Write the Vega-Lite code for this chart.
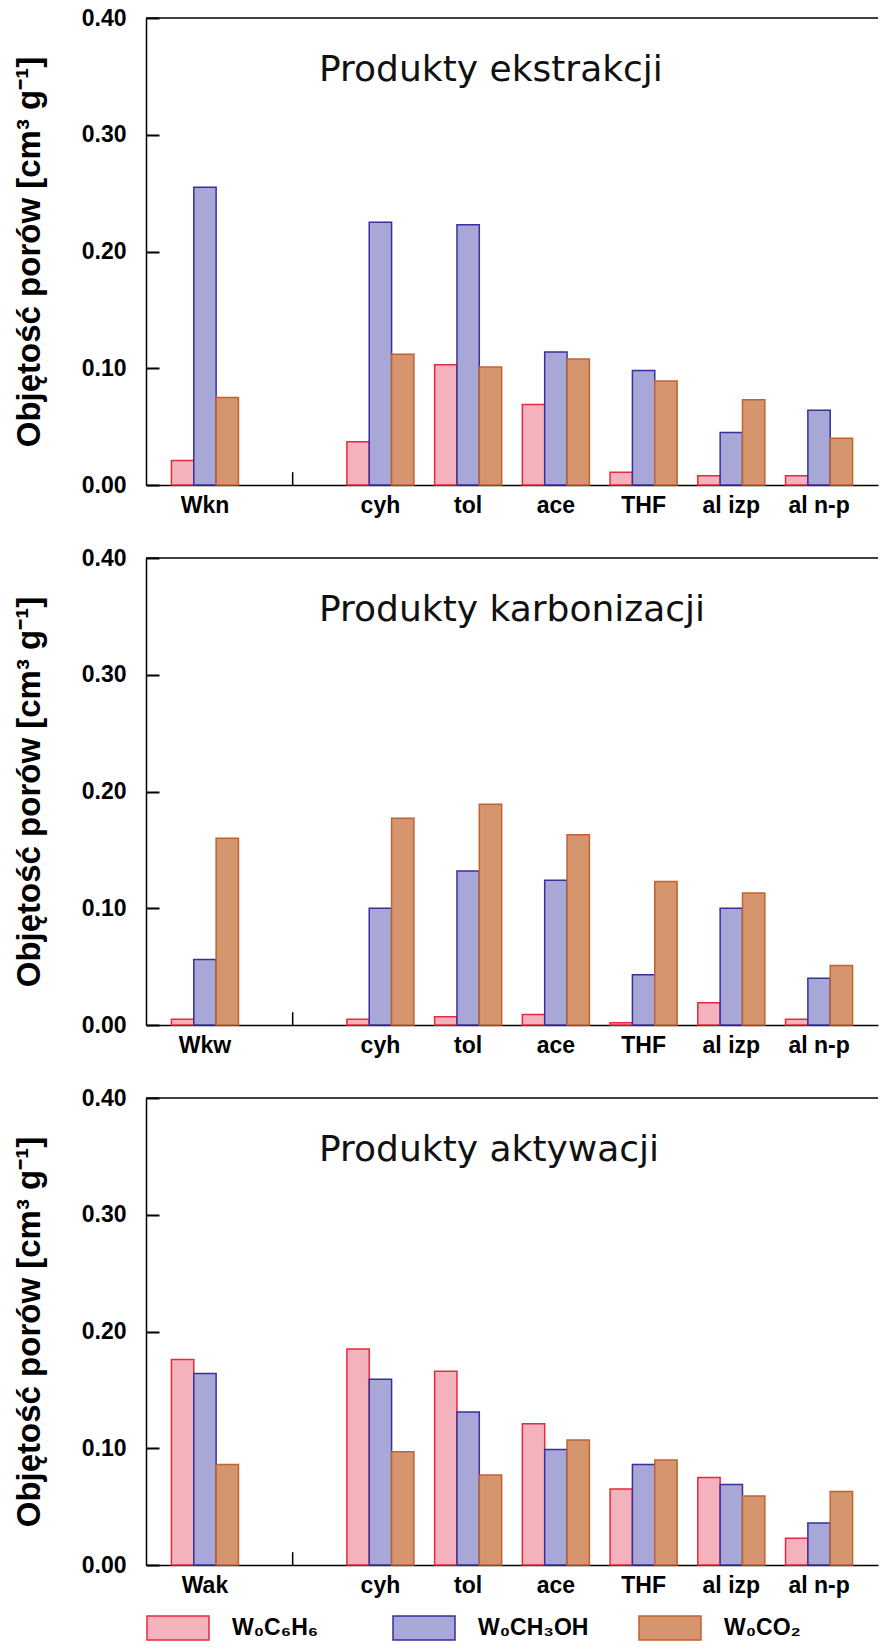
{
  "$schema": "https://vega.github.io/schema/vega-lite/v6.json",
  "background": "white",
  "padding": {"left": 13, "top": 7, "right": 0, "bottom": 0},
  "bounds": "flush",
  "spacing": 73,
  "config": {
    "view": {"stroke": null},
    "font": "Liberation Sans",
    "axisX": {
      "domain": true, "domainColor": "#000", "domainWidth": 1.5, "ticks": false,
      "labelAngle": 0, "labelFont": "Liberation Sans", "labelFontWeight": "bold", "labelFontSize": 23,
      "labelColor": "#000", "labelPadding": 9, "title": null, "grid": false
    },
    "axisY": {
      "domain": true, "domainColor": "#000", "domainWidth": 1.5,
      "ticks": true, "tickSize": -13, "tickColor": "#000", "tickWidth": 2,
      "labelFont": "Liberation Sans", "labelFontWeight": "bold", "labelFontSize": 23, "labelColor": "#000",
      "labelPadding": 33, "titleFont": "Liberation Sans", "titleFontWeight": "bold", "titleFontSize": 33,
      "titleColor": "#000", "titlePadding": 35, "grid": false
    },
    "title": {"font": "DejaVu Sans", "fontSize": 36, "fontWeight": "normal", "color": "#111", "anchor": "start", "frame": "group", "dx": 173, "offset": -82, "baseline": "alphabetic"}
  },
  "datasets": {
    "bars": [
      {"p": 1, "cat": "Wkn", "s": "W₀C₆H₆", "v": 0.021},
      {"p": 1, "cat": "Wkn", "s": "W₀CH₃OH", "v": 0.255},
      {"p": 1, "cat": "Wkn", "s": "W₀CO₂", "v": 0.075},
      {"p": 1, "cat": "cyh", "s": "W₀C₆H₆", "v": 0.037},
      {"p": 1, "cat": "cyh", "s": "W₀CH₃OH", "v": 0.225},
      {"p": 1, "cat": "cyh", "s": "W₀CO₂", "v": 0.112},
      {"p": 1, "cat": "tol", "s": "W₀C₆H₆", "v": 0.103},
      {"p": 1, "cat": "tol", "s": "W₀CH₃OH", "v": 0.223},
      {"p": 1, "cat": "tol", "s": "W₀CO₂", "v": 0.101},
      {"p": 1, "cat": "ace", "s": "W₀C₆H₆", "v": 0.069},
      {"p": 1, "cat": "ace", "s": "W₀CH₃OH", "v": 0.114},
      {"p": 1, "cat": "ace", "s": "W₀CO₂", "v": 0.108},
      {"p": 1, "cat": "THF", "s": "W₀C₆H₆", "v": 0.011},
      {"p": 1, "cat": "THF", "s": "W₀CH₃OH", "v": 0.098},
      {"p": 1, "cat": "THF", "s": "W₀CO₂", "v": 0.089},
      {"p": 1, "cat": "al izp", "s": "W₀C₆H₆", "v": 0.008},
      {"p": 1, "cat": "al izp", "s": "W₀CH₃OH", "v": 0.045},
      {"p": 1, "cat": "al izp", "s": "W₀CO₂", "v": 0.073},
      {"p": 1, "cat": "al n-p", "s": "W₀C₆H₆", "v": 0.008},
      {"p": 1, "cat": "al n-p", "s": "W₀CH₃OH", "v": 0.064},
      {"p": 1, "cat": "al n-p", "s": "W₀CO₂", "v": 0.040},

      {"p": 2, "cat": "Wkw", "s": "W₀C₆H₆", "v": 0.005},
      {"p": 2, "cat": "Wkw", "s": "W₀CH₃OH", "v": 0.056},
      {"p": 2, "cat": "Wkw", "s": "W₀CO₂", "v": 0.160},
      {"p": 2, "cat": "cyh", "s": "W₀C₆H₆", "v": 0.005},
      {"p": 2, "cat": "cyh", "s": "W₀CH₃OH", "v": 0.100},
      {"p": 2, "cat": "cyh", "s": "W₀CO₂", "v": 0.177},
      {"p": 2, "cat": "tol", "s": "W₀C₆H₆", "v": 0.007},
      {"p": 2, "cat": "tol", "s": "W₀CH₃OH", "v": 0.132},
      {"p": 2, "cat": "tol", "s": "W₀CO₂", "v": 0.189},
      {"p": 2, "cat": "ace", "s": "W₀C₆H₆", "v": 0.009},
      {"p": 2, "cat": "ace", "s": "W₀CH₃OH", "v": 0.124},
      {"p": 2, "cat": "ace", "s": "W₀CO₂", "v": 0.163},
      {"p": 2, "cat": "THF", "s": "W₀C₆H₆", "v": 0.002},
      {"p": 2, "cat": "THF", "s": "W₀CH₃OH", "v": 0.043},
      {"p": 2, "cat": "THF", "s": "W₀CO₂", "v": 0.123},
      {"p": 2, "cat": "al izp", "s": "W₀C₆H₆", "v": 0.019},
      {"p": 2, "cat": "al izp", "s": "W₀CH₃OH", "v": 0.100},
      {"p": 2, "cat": "al izp", "s": "W₀CO₂", "v": 0.113},
      {"p": 2, "cat": "al n-p", "s": "W₀C₆H₆", "v": 0.005},
      {"p": 2, "cat": "al n-p", "s": "W₀CH₃OH", "v": 0.040},
      {"p": 2, "cat": "al n-p", "s": "W₀CO₂", "v": 0.051},

      {"p": 3, "cat": "Wak", "s": "W₀C₆H₆", "v": 0.176},
      {"p": 3, "cat": "Wak", "s": "W₀CH₃OH", "v": 0.164},
      {"p": 3, "cat": "Wak", "s": "W₀CO₂", "v": 0.086},
      {"p": 3, "cat": "cyh", "s": "W₀C₆H₆", "v": 0.185},
      {"p": 3, "cat": "cyh", "s": "W₀CH₃OH", "v": 0.159},
      {"p": 3, "cat": "cyh", "s": "W₀CO₂", "v": 0.097},
      {"p": 3, "cat": "tol", "s": "W₀C₆H₆", "v": 0.166},
      {"p": 3, "cat": "tol", "s": "W₀CH₃OH", "v": 0.131},
      {"p": 3, "cat": "tol", "s": "W₀CO₂", "v": 0.077},
      {"p": 3, "cat": "ace", "s": "W₀C₆H₆", "v": 0.121},
      {"p": 3, "cat": "ace", "s": "W₀CH₃OH", "v": 0.099},
      {"p": 3, "cat": "ace", "s": "W₀CO₂", "v": 0.107},
      {"p": 3, "cat": "THF", "s": "W₀C₆H₆", "v": 0.065},
      {"p": 3, "cat": "THF", "s": "W₀CH₃OH", "v": 0.086},
      {"p": 3, "cat": "THF", "s": "W₀CO₂", "v": 0.090},
      {"p": 3, "cat": "al izp", "s": "W₀C₆H₆", "v": 0.075},
      {"p": 3, "cat": "al izp", "s": "W₀CH₃OH", "v": 0.069},
      {"p": 3, "cat": "al izp", "s": "W₀CO₂", "v": 0.059},
      {"p": 3, "cat": "al n-p", "s": "W₀C₆H₆", "v": 0.023},
      {"p": 3, "cat": "al n-p", "s": "W₀CH₃OH", "v": 0.036},
      {"p": 3, "cat": "al n-p", "s": "W₀CO₂", "v": 0.063}
    ]
  },
  "resolve": {"scale": {"x": "independent", "y": "independent", "fill": "independent", "stroke": "independent", "xOffset": "independent"}},
  "vconcat": [
    {
      "width": 732, "height": 467,
      "title": {"text": "Produkty ekstrakcji"},
      "data": {"name": "bars"},
      "layer": [
        {
          "transform": [{"filter": "datum.p == 1"}],
          "mark": {"type": "bar", "strokeWidth": 1.5},
          "encoding": {
            "x": {"field": "cat", "type": "nominal", "title": null,
                  "scale": {"domain": ["Wkn", "gap", "cyh", "tol", "ace", "THF", "al izp", "al n-p"], "paddingInner": 0.236, "paddingOuter": 0.29},
                  "axis": {"labelExpr": "datum.label == 'gap' ? '' : datum.label"}},
            "xOffset": {"field": "s", "type": "nominal", "scale": {"domain": ["W₀C₆H₆", "W₀CH₃OH", "W₀CO₂"], "paddingInner": 0, "paddingOuter": 0}},
            "y": {"field": "v", "type": "quantitative", "title": "Objętość porów [cm³ g⁻¹]",
                  "scale": {"domain": [0, 0.4], "nice": false},
                  "axis": {"values": [0, 0.1, 0.2, 0.3, 0.4], "format": ".2f"}},
            "fill": {"field": "s", "type": "nominal", "legend": null,
                     "scale": {"domain": ["W₀C₆H₆", "W₀CH₃OH", "W₀CO₂"], "range": ["#F4B2BD", "#A7A7D8", "#D4956F"]}},
            "stroke": {"field": "s", "type": "nominal", "legend": null,
                       "scale": {"domain": ["W₀C₆H₆", "W₀CH₃OH", "W₀CO₂"], "range": ["#E8283C", "#3B2F9E", "#C2622F"]}}
          }
        },
        {
          "data": {"values": [{"cat": "gap"}]},
          "mark": {"type": "rule", "color": "#000", "strokeWidth": 1.5},
          "encoding": {"x": {"field": "cat", "type": "nominal"}, "y": {"datum": 0}, "y2": {"datum": 0.011}}
        },
        {
          "data": {"values": [{"edge": "top"}]},
          "mark": {"type": "rule", "color": "#000", "strokeWidth": 1.5},
          "encoding": {"y": {"datum": 0.4}}
        }
      ]
    },
    {
      "width": 732, "height": 467,
      "title": {"text": "Produkty karbonizacji"},
      "data": {"name": "bars"},
      "layer": [
        {
          "transform": [{"filter": "datum.p == 2"}],
          "mark": {"type": "bar", "strokeWidth": 1.5},
          "encoding": {
            "x": {"field": "cat", "type": "nominal", "title": null,
                  "scale": {"domain": ["Wkw", "gap", "cyh", "tol", "ace", "THF", "al izp", "al n-p"], "paddingInner": 0.236, "paddingOuter": 0.29},
                  "axis": {"labelExpr": "datum.label == 'gap' ? '' : datum.label"}},
            "xOffset": {"field": "s", "type": "nominal", "scale": {"domain": ["W₀C₆H₆", "W₀CH₃OH", "W₀CO₂"], "paddingInner": 0, "paddingOuter": 0}},
            "y": {"field": "v", "type": "quantitative", "title": "Objętość porów [cm³ g⁻¹]",
                  "scale": {"domain": [0, 0.4], "nice": false},
                  "axis": {"values": [0, 0.1, 0.2, 0.3, 0.4], "format": ".2f"}},
            "fill": {"field": "s", "type": "nominal", "legend": null,
                     "scale": {"domain": ["W₀C₆H₆", "W₀CH₃OH", "W₀CO₂"], "range": ["#F4B2BD", "#A7A7D8", "#D4956F"]}},
            "stroke": {"field": "s", "type": "nominal", "legend": null,
                       "scale": {"domain": ["W₀C₆H₆", "W₀CH₃OH", "W₀CO₂"], "range": ["#E8283C", "#3B2F9E", "#C2622F"]}}
          }
        },
        {
          "data": {"values": [{"cat": "gap"}]},
          "mark": {"type": "rule", "color": "#000", "strokeWidth": 1.5},
          "encoding": {"x": {"field": "cat", "type": "nominal"}, "y": {"datum": 0}, "y2": {"datum": 0.011}}
        },
        {
          "data": {"values": [{"edge": "top"}]},
          "mark": {"type": "rule", "color": "#000", "strokeWidth": 1.5},
          "encoding": {"y": {"datum": 0.4}}
        }
      ]
    },
    {
      "width": 732, "height": 467,
      "title": {"text": "Produkty aktywacji"},
      "data": {"name": "bars"},
      "layer": [
        {
          "transform": [{"filter": "datum.p == 3"}],
          "mark": {"type": "bar", "strokeWidth": 1.5},
          "encoding": {
            "x": {"field": "cat", "type": "nominal", "title": null,
                  "scale": {"domain": ["Wak", "gap", "cyh", "tol", "ace", "THF", "al izp", "al n-p"], "paddingInner": 0.236, "paddingOuter": 0.29},
                  "axis": {"labelExpr": "datum.label == 'gap' ? '' : datum.label"}},
            "xOffset": {"field": "s", "type": "nominal", "scale": {"domain": ["W₀C₆H₆", "W₀CH₃OH", "W₀CO₂"], "paddingInner": 0, "paddingOuter": 0}},
            "y": {"field": "v", "type": "quantitative", "title": "Objętość porów [cm³ g⁻¹]",
                  "scale": {"domain": [0, 0.4], "nice": false},
                  "axis": {"values": [0, 0.1, 0.2, 0.3, 0.4], "format": ".2f"}},
            "fill": {"field": "s", "type": "nominal",
                     "scale": {"domain": ["W₀C₆H₆", "W₀CH₃OH", "W₀CO₂"], "range": ["#F4B2BD", "#A7A7D8", "#D4956F"]},
                     "legend": {"orient": "none", "legendX": 0, "legendY": 498, "title": null, "direction": "horizontal", "columns": 3,
                                "symbolType": "M-1,-0.387H1V0.387H-1Z", "symbolSize": 3844, "symbolStrokeWidth": 1.5,
                                "labelFont": "Liberation Sans", "labelFontSize": 23, "labelFontWeight": "bold", "labelColor": "#000",
                                "labelOffset": 22, "columnPadding": 47, "padding": 0, "gridAlign": "all"}},
            "stroke": {"field": "s", "type": "nominal",
                       "scale": {"domain": ["W₀C₆H₆", "W₀CH₃OH", "W₀CO₂"], "range": ["#E8283C", "#3B2F9E", "#C2622F"]},
                       "legend": {"orient": "none", "legendX": 0, "legendY": 498, "title": null, "direction": "horizontal", "columns": 3,
                                "symbolType": "M-1,-0.387H1V0.387H-1Z", "symbolSize": 3844, "symbolStrokeWidth": 1.5,
                                "labelFont": "Liberation Sans", "labelFontSize": 23, "labelFontWeight": "bold", "labelColor": "#000",
                                "labelOffset": 22, "columnPadding": 47, "padding": 0, "gridAlign": "all"}}
          }
        },
        {
          "data": {"values": [{"cat": "gap"}]},
          "mark": {"type": "rule", "color": "#000", "strokeWidth": 1.5},
          "encoding": {"x": {"field": "cat", "type": "nominal"}, "y": {"datum": 0}, "y2": {"datum": 0.011}}
        },
        {
          "data": {"values": [{"edge": "top"}]},
          "mark": {"type": "rule", "color": "#000", "strokeWidth": 1.5},
          "encoding": {"y": {"datum": 0.4}}
        }
      ]
    }
  ]
}
